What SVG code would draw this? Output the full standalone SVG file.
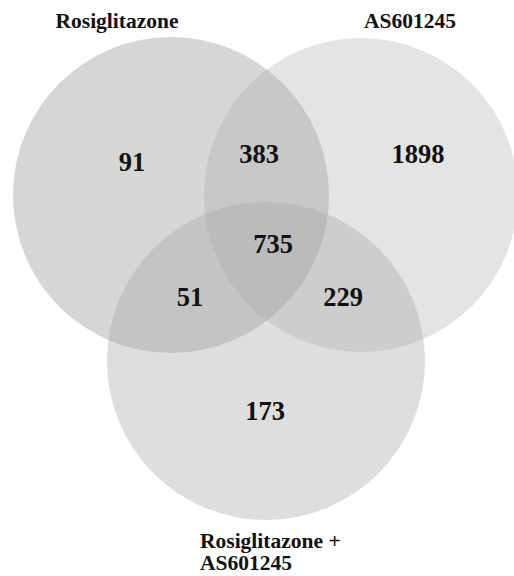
<svg xmlns="http://www.w3.org/2000/svg" width="514" height="576" viewBox="0 0 514 576">
<style>
.lbl{font-family:"Liberation Serif","Times New Roman",serif;font-weight:bold;font-size:21.5px;fill:#111}
.num{font-family:"Liberation Serif","Times New Roman",serif;font-weight:bold;font-size:26.5px;fill:#111;text-anchor:middle}
</style>
<rect width="514" height="576" fill="#fff"/>
<g id="set-rosiglitazone">
<circle cx="171" cy="195" r="158" fill="#d6d6d6"/>
</g>
<g id="set-as601245">
<circle cx="361" cy="195" r="157" fill="#aaaaaa" fill-opacity="0.317"/>
</g>
<g id="set-combo">
<circle cx="266" cy="361" r="159" fill="#a5a5a5" fill-opacity="0.366"/>
</g>
<g id="labels">
<text class="lbl" x="117" y="28" text-anchor="middle">Rosiglitazone</text>
<text class="lbl" x="410" y="28" text-anchor="middle">AS601245</text>
<text class="lbl" x="200" y="548">Rosiglitazone +</text>
<text class="lbl" x="200" y="570">AS601245</text>
</g>
<g id="counts">
<text class="num" x="132" y="171">91</text>
<text class="num" x="259" y="163">383</text>
<text class="num" x="418" y="163">1898</text>
<text class="num" x="273" y="253">735</text>
<text class="num" x="190" y="306">51</text>
<text class="num" x="343" y="306">229</text>
<text class="num" x="265" y="420">173</text>
</g>
</svg>
